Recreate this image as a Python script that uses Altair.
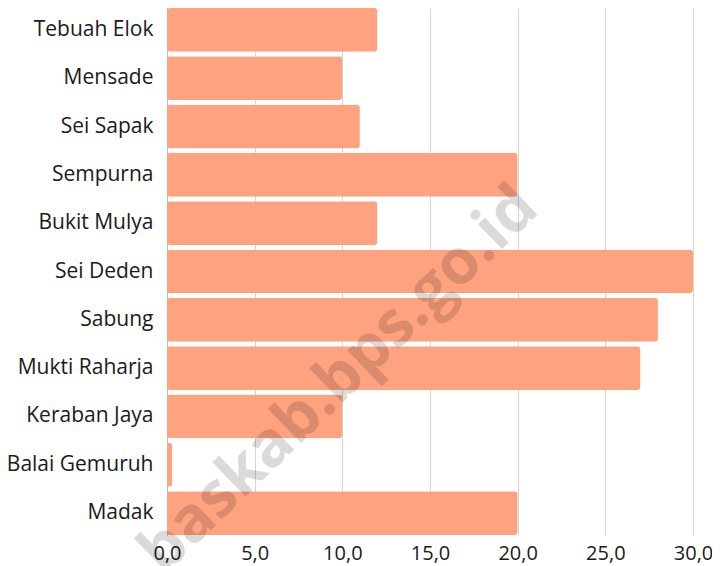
import altair as alt
import pandas as pd

categories = ["Tebuah Elok", "Mensade", "Sei Sapak", "Sempurna", "Bukit Mulya",
              "Sei Deden", "Sabung", "Mukti Raharja", "Keraban Jaya",
              "Balai Gemuruh", "Madak"]
values = [12, 10, 11, 20, 12, 30, 28, 27, 10, 0.3, 20]
x_ticks = [0, 5, 10, 15, 20, 25, 30]
watermark = "baskab.bps.go.id"

df = pd.DataFrame({"desa": categories, "nilai": values})

FONT = "Open Sans"

bars = alt.Chart(df).mark_bar(color="#FFA280", cornerRadius=3).encode(
    y=alt.Y("desa:N", sort=categories, title=None,
            scale=alt.Scale(paddingInner=0.095, paddingOuter=0),
            axis=alt.Axis(labelFont=FONT, labelFontSize=21, labelColor="#1a1a1a",
                          labelPadding=14, ticks=False, domain=True,
                          domainColor="#BBBBBB", grid=False, labelLimit=200)),
    x=alt.X("nilai:Q", title=None,
            scale=alt.Scale(domain=[0, 30], nice=False),
            axis=alt.Axis(values=x_ticks, labelFont=FONT, labelFontSize=20,
                          labelColor="#1a1a1a", ticks=False, domain=False,
                          grid=True, gridColor="#D5D5D5", labelPadding=8,
                          labelFlush=False,
                          labelExpr="replace(format(datum.value, '.1f'), '.', ',')")),
)

wm = alt.Chart(pd.DataFrame({"t": [watermark]})).mark_text(
    font=FONT, fontSize=63, fontWeight="bold", color="#000000", opacity=0.14,
    angle=316, align="center", baseline="middle"
).encode(
    text="t:N",
    x=alt.value(172),
    y=alt.value(372),
)

chart = alt.layer(bars, wm).properties(
    width=526, height=527,
    autosize=alt.AutoSizeParams(type="none"),
    padding={"left": 159, "top": 0, "right": 19, "bottom": 31},
).configure_view(stroke=None)

chart.save("out.html", embed_options={"renderer": "svg", "actions": False})
